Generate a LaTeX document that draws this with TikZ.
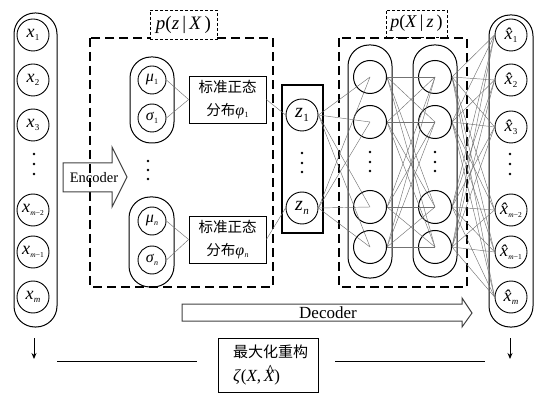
\documentclass[tikz,border=0pt]{standalone}
\usepackage{fontspec}
\setmainfont{Liberation Serif}
\newfontfamily\cjk{Noto Sans CJK SC}
\usetikzlibrary{arrows.meta}
\newcommand{\vsub}[3][9]{{\itshape #2}\kern0.3pt\raisebox{-0.35ex}{\fontsize{#1}{#1}\selectfont #3}}
\newcommand{\hatX}{\ooalign{\itshape X\cr\hidewidth\kern0.15em\raisebox{0.3em}{\^{}}\hidewidth\cr}}
\begin{document}
\begin{tikzpicture}[x=1pt,y=-1pt,line width=0.9pt,
  neur/.style={circle,draw,line width=0.9pt,minimum size=32pt,inner sep=0pt,font=\fontsize{18}{19}\selectfont},
  hid/.style={circle,draw,line width=1pt,minimum size=33pt,inner sep=0pt},
  small/.style={circle,draw,line width=0.9pt,minimum size=28pt,inner sep=0pt,font=\fontsize{16}{18}\selectfont},
  conn/.style={draw=black!55,line width=0.45pt},
  pill/.style={draw,line width=1pt},
  bigdash/.style={draw,line width=1.2pt,dash pattern=on 9pt off 5pt},
  smalldash/.style={draw,line width=0.9pt,dash pattern=on 3pt off 2pt},
  dist/.style={draw,line width=0.8pt,minimum width=77pt,minimum height=47pt,align=center,inner sep=2pt,font=\cjk\fontsize{14.5}{23}\selectfont},
  downarr/.style={-{Stealth[length=6pt,width=5pt]},line width=0.9pt},
  bigarr/.style={draw=black!75,line width=1pt}
]
\useasboundingbox (0,0) rectangle (543,395);

% ---------- input column ----------
\draw[pill,rounded corners=21pt] (14,13) rectangle (57,327);
\node[neur] (x1) at (33,35) {\vsub{x}{1}};
\node[neur] (x2) at (33,80) {\vsub{x}{2}};
\node[neur] (x3) at (33,125) {\vsub{x}{3}};
\node[neur] (xm2) at (33,210) {\vsub[7.5]{x}{\textit{m}−2}};
\node[neur] (xm1) at (33,252) {\vsub[7.5]{x}{\textit{m}−1}};
\node[neur] (xm) at (33,297) {\vsub{x}{\textit{m}}};
\foreach \yy in {154,164,174} \fill (34,\yy) circle (1.3pt);

% ---------- encoder box ----------
\draw[bigdash] (90,38) rectangle (273,287);
\node[smalldash,minimum width=67pt,minimum height=29pt,fill=white,font=\fontsize{19}{20}\selectfont] (pzx) at (183.5,24.5) {\textit{p}(\textit{z}\,|\,\textit{X}\,)};

\draw[pill,rounded corners=21pt] (130,57) rectangle (174,143);
\node[small] (mu1) at (152,80) {\vsub[8]{μ}{1}};
\node[small] (s1) at (152,118) {\vsub[8]{σ}{1}};
\foreach \yy in {161,170,179} \fill (148,\yy) circle (1.3pt);
\draw[pill,rounded corners=21pt] (129,197) rectangle (174,287);
\node[small] (mun) at (152,221) {\vsub[8]{μ}{\textit{n}}};
\node[small] (sn) at (152,260) {\vsub[8]{σ}{\textit{n}}};

\node[dist] (d1) at (227.5,99.5) {标准正态\\分布{\rmfamily\fontsize{16}{16}\selectfont\vsub[8]{φ}{1}}};
\node[dist] (dn) at (227.5,239.5) {标准正态\\分布{\rmfamily\fontsize{16}{16}\selectfont\vsub[8]{φ}{\textit{n}}}};
\draw[conn] (mu1.east) -- (d1.west);
\draw[conn] (s1.east) -- (d1.west);
\draw[conn] (mun.east) -- (dn.west);
\draw[conn] (sn.east) -- (dn.west);

% ---------- latent z ----------
\draw[line width=1.2pt] (282,85) rectangle (323,233);
\node[neur,font=\fontsize{20}{21}\selectfont] (z1) at (302,115) {\vsub[11]{z}{1}};
\node[neur,font=\fontsize{20}{21}\selectfont] (zn) at (302,208) {\vsub[11]{z}{\textit{n}}};
\foreach \yy in {153,163,172} \fill (302,\yy) circle (1.3pt);
\draw[conn] (d1.east) -- (z1.west);
\draw[conn] (dn.east) -- (zn.west);

% ---------- decoder box ----------
\draw[bigdash] (339,38) rectangle (467,287);
\node[smalldash,minimum width=61pt,minimum height=27pt,fill=white,font=\fontsize{18}{19}\selectfont] (pxz) at (416.5,23.5) {\textit{p}(\textit{X}\,|\,\textit{z}\,)};

\draw[pill,rounded corners=21pt] (348,45) rectangle (392,278);
\draw[pill,rounded corners=21pt] (413,45) rectangle (457,277);
\foreach \i/\yy in {1/77,2/122,3/207,4/247} {
  \node[hid] (a\i) at (370,\yy) {};
  \node[hid] (b\i) at (435,\yy) {};
}
\foreach \yy in {152,162,171} {\fill (370,\yy) circle (1.3pt); \fill (435,\yy) circle (1.3pt);}

% ---------- output column ----------
\draw[pill,rounded corners=21pt] (489,15) rectangle (533,327);
\node[neur] (y1) at (511,35) {\vsub{\^{x}}{1}};
\node[neur] (y2) at (511,80) {\vsub{\^{x}}{2}};
\node[neur] (y3) at (511,127) {\vsub{\^{x}}{3}};
\node[neur] (y4) at (511,210) {\vsub[7.5]{\^{x}}{\textit{m}−2}};
\node[neur] (y5) at (511,252) {\vsub[7.5]{\^{x}}{\textit{m}−1}};
\node[neur] (y6) at (511,297) {\vsub{\^{x}}{\textit{m}}};
\foreach \yy in {154,164,174} \fill (510,\yy) circle (1.3pt);

% ---------- connections ----------
\foreach \s in {z1,zn} \foreach \t in {1,2,3,4} \draw[conn] (\s.east) -- (a\t.center);
\foreach \s in {1,2,3,4} \foreach \t in {1,2,3,4} \draw[conn] (a\s.east) -- (b\t.center);
\foreach \s in {1,2,3,4} \foreach \t in {1,...,6} \draw[conn] (b\s.east) -- (y\t.west);

% ---------- big arrows ----------
\draw[bigarr] (63,163) -- (112,163) -- (112,147) -- (127,177) -- (112,207) -- (112,192) -- (63,192) -- cycle;
\node[font=\fontsize{14.5}{17}\selectfont] (enc) at (94,178) {Encoder};
\draw[bigarr] (182,304) -- (462,304) -- (462,298) -- (472,313) -- (462,327) -- (462,321) -- (182,321) -- cycle;
\node[font=\fontsize{17}{19}\selectfont] (dec) at (328,313) {Decoder};

% ---------- reconstruction ----------
\coordinate (inb) at (34,338);
\coordinate (ine) at (34,359);
\coordinate (outb) at (510,338);
\coordinate (oute) at (510,359);
\draw[downarr] (inb) -- (ine);
\draw[downarr] (outb) -- (oute);
\node[draw,line width=0.9pt,minimum width=100pt,minimum height=54pt,text width=70pt,align=left,inner sep=0pt,font=\fontsize{15}{24}\selectfont] (rec) at (268,365) {{\cjk 最大化重构}\\{\fontsize{17}{17}\selectfont\textit{ζ}(\textit{X},\,\hatX)}};
\coordinate (l1) at (57,361);
\coordinate (l2) at (197,361);
\coordinate (r1) at (335,361);
\coordinate (r2) at (485,361);
\draw[line width=0.9pt] (l1) -- (l2);
\draw[line width=0.9pt] (r1) -- (r2);
\end{tikzpicture}
\end{document}
